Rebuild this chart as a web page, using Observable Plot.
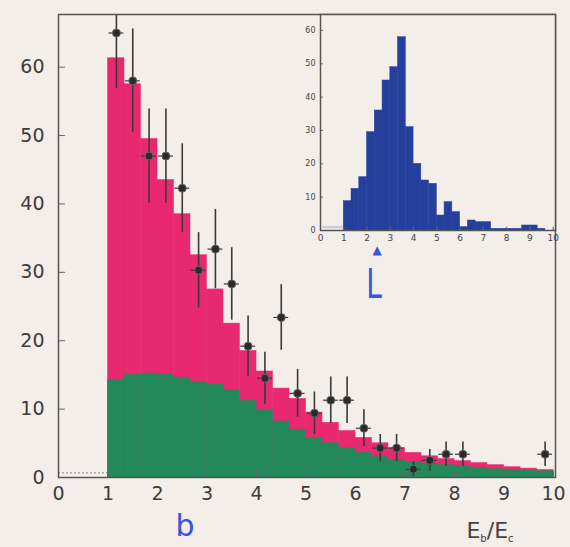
<!DOCTYPE html>
<html><head><meta charset="utf-8">
<script src="https://cdn.jsdelivr.net/npm/d3@7"></script>
<script src="https://cdn.jsdelivr.net/npm/@observablehq/plot@0.6"></script>
<style>
html,body{margin:0;padding:0;background:#f3eeea;}
#wrap{position:relative;width:570px;height:547px;overflow:hidden;background:#f3eeea;}
#wrap svg{position:absolute;}
</style></head><body><div id="wrap"></div>
<script>
// bin lower edges (width 1/3)
const binLo = [1.000,1.333,1.667,2.000,2.333,2.667,3.000,3.333,3.667,4.000,4.333,4.667,5.000,5.333,5.667,6.000,6.333,6.667,7.000,7.333,7.667,8.000,8.333,8.667,9.000,9.333,9.667];
const binW = 1/3;
// main plot: total expectation (pink) and background (green)
const totalMC = [61.3,57.5,49.5,43.5,38.5,32.5,27.5,22.5,18.5,15.5,13.0,11.5,9.5,8.0,6.8,5.8,5.0,4.3,3.6,3.1,2.7,2.4,2.1,1.8,1.5,1.3,1.1];
const backgroundMC = [14.2,15.0,15.2,15.0,14.6,14.0,13.6,12.8,11.2,9.8,8.2,7.0,5.8,5.0,4.3,3.6,3.0,2.6,2.3,2.0,1.8,1.6,1.4,1.2,1.1,1.0,0.9];
// data points
const ptX = [1.17,1.5,1.83,2.17,2.5,2.83,3.17,3.5,3.83,4.17,4.5,4.83,5.17,5.5,5.83,6.17,6.5,6.83,7.17,7.5,7.83,8.17,9.83];
const ptY = [65,58,47,47,42.3,30.3,33.4,28.3,19.2,14.5,23.4,12.3,9.4,11.3,11.3,7.2,4.3,4.3,1.2,2.5,3.4,3.4,3.4];
const ptErr = [8.1,7.6,6.9,6.9,6.5,5.5,5.8,5.3,4.4,3.8,4.8,3.5,3.1,3.4,3.4,2.7,2.0,2.0,1.1,1.6,1.8,1.8,1.8];
// inset histogram
const insetVals = [8.8,12.5,16,29.5,36,45,49,58,31,20,15,14,4.5,8.5,5.5,1,3,2.5,2.5,0.5,0.5,0.5,0.5,1.5,1.5,0.5,0];
// ticks
const xTicks = [0,1,2,3,4,5,6,7,8,9,10];
const yTicks = [0,10,20,30,40,50,60];
const insetYTicks = [0,10,20,30,40,50,60];

const hist = binLo.map((lo,i)=>({lo, hi: lo+binW, total: totalMC[i], bkg: backgroundMC[i], ins: insetVals[i]}));
const pts = ptX.map((x,i)=>({x, y: ptY[i], err: ptErr[i]}));

const BG = "#f3eeea";
const font = "DejaVu Sans";

const main = Plot.plot({
  width: 570, height: 547,
  marginLeft: 58, marginRight: 15, marginTop: 14, marginBottom: 70,
  style: {background: BG, fontFamily: font},
  x: {domain: [0, 10.04]},
  y: {domain: [0, 67.7]},
  marks: [
    Plot.ruleY([0.7], {x1: 0, x2: 1, stroke: "#a8a8b8", strokeWidth: 1.5, strokeDasharray: "2,2"}),
    Plot.rectY(hist, {x1: "lo", x2: "hi", y: "total", fill: "#e8286f", stroke: "#e8286f", strokeWidth: 0.5, inset: 0}),
    Plot.rectY(hist, {x1: "lo", x2: "hi", y: "bkg", fill: "#23895b", stroke: "#23895b", strokeWidth: 0.5, inset: 0}),
    Plot.ruleY(yTicks, {x1: 0, x2: 0.14, stroke: "#666"}),
    Plot.ruleX(xTicks, {y1: 0, y2: 0.9, stroke: "#666"}),
    Plot.ruleX(pts, {x: "x", y1: d => d.y - d.err, y2: d => d.y + d.err, stroke: "#3a3a3a", strokeWidth: 1.6, clip: true}),
    Plot.ruleY(pts, {y: "y", x1: d => d.x - 0.15, x2: d => d.x + 0.15, stroke: "#3a3a3a", strokeWidth: 1.2}),
    Plot.dot(pts, {x: "x", y: "y", r: 4, fill: "#2a2a2a", stroke: "#666", strokeWidth: 1}),
    Plot.frame({stroke: "#555", strokeWidth: 1.5}),
    Plot.axisX(xTicks, {tickSize: 0, tickPadding: 9, fontSize: 19, fill: "#3c3c3c", label: null}),
    Plot.axisY(yTicks, {tickSize: 0, tickPadding: 14, fontSize: 19, fill: "#3c3c3c", label: null})
  ]
});

const inset = Plot.plot({
  width: 280, height: 250,
  marginLeft: 30, marginRight: 15, marginTop: 14, marginBottom: 20,
  style: {background: "transparent", fontFamily: font},
  x: {domain: [0, 10.1]},
  y: {domain: [0, 64.8]},
  marks: [
    Plot.frame({fill: BG}),
    Plot.ruleY([1], {x1: 0.1, x2: 1, stroke: "#c8c8d8", strokeWidth: 2}),
    Plot.rectY(hist, {x1: "lo", x2: "hi", y: "ins", fill: "#24409c", stroke: "#24409c", strokeWidth: 0.5, inset: 0}),
    Plot.ruleY(insetYTicks, {x1: 0, x2: 0.12, stroke: "#666"}),
    Plot.ruleX(xTicks, {y1: 0, y2: 1, stroke: "#666"}),
    Plot.frame({stroke: "#555", strokeWidth: 1.5}),
    Plot.axisX(xTicks, {tickSize: 0, tickPadding: 4, fontSize: 9, fill: "#444", label: null}),
    Plot.axisY(insetYTicks, {tickSize: 0, tickPadding: 5, fontSize: 8, fill: "#444", label: null})
  ]
});

const wrap = document.getElementById("wrap");
main.style.left = "0px"; main.style.top = "0px";
inset.style.left = "290px"; inset.style.top = "0px";
wrap.appendChild(main);
wrap.appendChild(inset);

// axis title E_b/E_c
const svg = d3.select(main);
const t = svg.append("text").attr("x", 490).attr("y", 538)
  .attr("font-family", font).attr("font-size", 22).attr("fill", "#444");
t.append("tspan").text("E");
t.append("tspan").attr("font-size", 10).attr("dy", 4).text("b");
t.append("tspan").attr("dy", -4).text("/E");
t.append("tspan").attr("font-size", 10).attr("dy", 4).text("c");

// hand-written panel marks
svg.append("text").attr("x", 185).attr("y", 536).attr("text-anchor", "middle")
  .attr("font-family", font).attr("font-size", 30).attr("fill", "#3557e0").text("b");
svg.append("text").attr("x", 377).attr("y", 254).attr("text-anchor", "middle")
  .attr("font-family", font).attr("font-size", 12).attr("fill", "#3557e0").text("▲");
svg.append("text").attr("x", 374).attr("y", 298)
  .attr("font-family", font).attr("font-size", 40).attr("fill", "#3557e0")
  .attr("transform", "translate(374,298) scale(0.7,1) translate(-374,-298)").text("L");
</script></body></html>
